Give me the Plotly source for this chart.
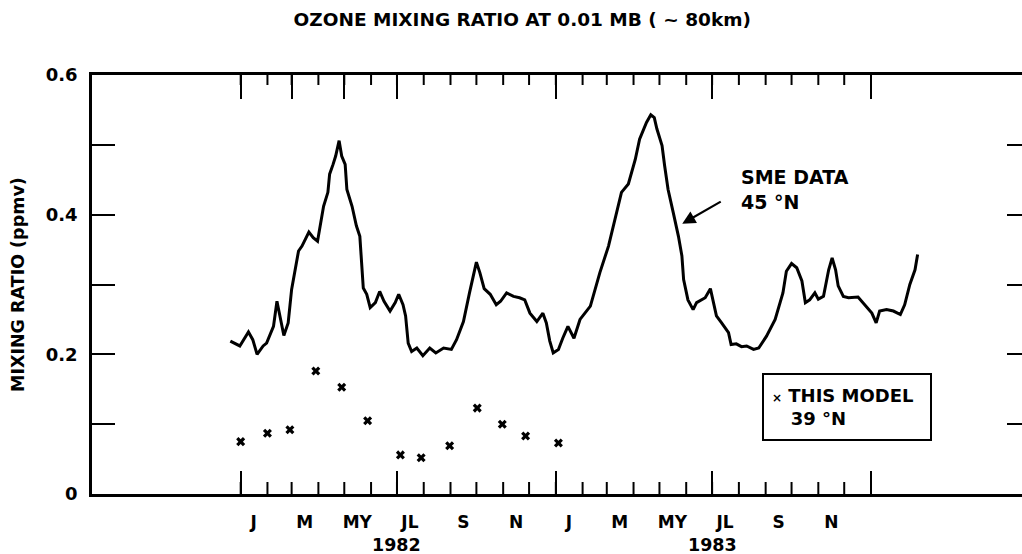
import pandas as pd
import plotly.graph_objects as go

# SME ozone mixing ratio at 45N (ppmv); time as days from 1 Jan 1982
sme_days = [-12, -1, 9, 14, 19, 26, 30, 38, 42, 46, 50, 55, 59, 67, 71, 79, 84, 89, 93, 96,
            101, 103, 107, 110, 114, 117, 121, 123, 129, 134, 138, 140, 142, 146, 150, 156,
            161, 166, 173, 179, 183, 188, 191, 194, 198, 204, 211, 219, 226, 235, 244, 250,
            258, 265, 269, 273, 277, 282, 289, 296, 301, 308, 316, 323, 329, 335, 343, 350,
            354, 358, 362, 368, 373, 379, 386, 393, 405, 416, 426, 434, 441, 449, 457, 462,
            470, 475, 479, 482, 488, 491, 495, 501, 507, 511, 513, 518, 524, 528, 538, 544,
            547, 551, 557, 565, 568, 574, 580, 586, 594, 600, 609, 619, 628, 632, 638, 644,
            650, 654, 659, 665, 669, 675, 681, 685, 689, 692, 698, 704, 715, 719, 725, 731,
            736, 740, 748, 756, 764, 769, 775, 781, 784]
sme_ppmv = [0.219, 0.212, 0.232, 0.221, 0.200, 0.212, 0.216, 0.240, 0.276, 0.252, 0.227, 0.245,
            0.293, 0.348, 0.355, 0.375, 0.367, 0.362, 0.389, 0.412, 0.432, 0.458, 0.472, 0.484,
            0.506, 0.484, 0.472, 0.436, 0.412, 0.384, 0.369, 0.331, 0.295, 0.286, 0.267, 0.274,
            0.290, 0.276, 0.262, 0.274, 0.286, 0.271, 0.255, 0.216, 0.204, 0.209, 0.198, 0.209,
            0.202, 0.209, 0.207, 0.221, 0.247, 0.288, 0.312, 0.332, 0.317, 0.294, 0.286, 0.271,
            0.276, 0.288, 0.283, 0.281, 0.278, 0.259, 0.247, 0.259, 0.245, 0.219, 0.202, 0.207,
            0.223, 0.240, 0.223, 0.250, 0.269, 0.317, 0.355, 0.398, 0.432, 0.444, 0.479, 0.508,
            0.532, 0.543, 0.539, 0.523, 0.499, 0.470, 0.436, 0.403, 0.369, 0.341, 0.307, 0.278,
            0.264, 0.274, 0.281, 0.294, 0.278, 0.255, 0.245, 0.231, 0.214, 0.215, 0.211, 0.212,
            0.207, 0.209, 0.226, 0.250, 0.288, 0.319, 0.330, 0.324, 0.305, 0.274, 0.278, 0.288,
            0.279, 0.283, 0.321, 0.338, 0.321, 0.298, 0.283, 0.281, 0.282, 0.276, 0.267, 0.259,
            0.245, 0.262, 0.264, 0.262, 0.257, 0.271, 0.300, 0.321, 0.343]

# Model values at 39N (ppmv), roughly monthly
model_dates = ["1982-01-01", "1982-02-01", "1982-02-27", "1982-03-29", "1982-04-28",
               "1982-05-28", "1982-07-05", "1982-07-29", "1982-08-31", "1982-10-02",
               "1982-10-31", "1982-11-27", "1983-01-04"]
model_ppmv = [0.075, 0.087, 0.092, 0.176, 0.153, 0.105, 0.056, 0.052, 0.069, 0.123,
              0.100, 0.083, 0.073]

month_labels = ["J", "M", "MY", "JL", "S", "N", "J", "M", "MY", "JL", "S", "N"]
month_label_dates = ["1982-01-16", "1982-03-16", "1982-05-16", "1982-07-16", "1982-09-16",
                     "1982-11-16", "1983-01-16", "1983-03-16", "1983-05-16", "1983-07-16",
                     "1983-09-16", "1983-11-16"]
year_labels = ["1982", "1983"]
year_label_dates = ["1982-07-01", "1983-07-01"]

y_tick_vals = [0, 0.1, 0.2, 0.3, 0.4, 0.5, 0.6]
y_tick_text = ["0", "", "0.2", "", "0.4", "", "0.6"]

base = pd.Timestamp("1982-01-01")
sme_dates = [(base + pd.Timedelta(days=d)).strftime("%Y-%m-%d") for d in sme_days]

month_starts = [f"{y}-{m:02d}-01" for y in (1982, 1983) for m in range(1, 13)] + ["1984-01-01"]
bottom_major = ["1982-01-01", "1982-07-01", "1983-01-01", "1983-07-01", "1984-01-01"]
top_major = ["1982-01-01", "1982-03-01", "1982-05-01", "1982-07-01",
             "1983-01-01", "1983-07-01", "1984-01-01"]
start_days, end_days = -172.2, 904.9
x_range = [(base + pd.Timedelta(days=start_days)).strftime("%Y-%m-%d %H:%M"),
           (base + pd.Timedelta(days=end_days)).strftime("%Y-%m-%d %H:%M")]

FONT = "DejaVu Sans"
ink = "black"
PLOT_H = 419  # plot-area height in px, used to turn tick lengths into paper units

fig = go.Figure()
fig.add_trace(go.Scatter(x=sme_dates, y=sme_ppmv, mode="lines",
                         line=dict(color=ink, width=3), showlegend=False, hoverinfo="skip"))
fig.add_trace(go.Scatter(x=model_dates, y=model_ppmv, mode="markers",
                         marker=dict(symbol="x", size=8, color=ink, line=dict(width=0)),
                         showlegend=False))

blank = dict(type="date", range=x_range, overlaying="x", anchor="y",
             showgrid=False, zeroline=False)

fig.update_layout(
    width=1022, height=554,
    margin=dict(l=92, r=0, t=75, b=60),
    paper_bgcolor="white", plot_bgcolor="white",
    font=dict(family=FONT, color=ink, size=17),
    title=dict(text="OZONE MIXING RATIO AT 0.01 MB ( ~ 80km)", x=0.511, xref="container",
               y=1 - 20 / 554, yanchor="middle", xanchor="center",
               font=dict(family=FONT, size=18.5, color=ink, weight="bold")),
    # bottom axis: long ticks at January / July
    xaxis=dict(type="date", range=x_range, showline=True, linewidth=2.5, linecolor=ink,
               ticks="inside", tickmode="array", tickvals=bottom_major, ticklen=23,
               tickwidth=2, tickcolor=ink, showticklabels=False, showgrid=False,
               zeroline=False),
    # month labels
    xaxis2=dict(blank, side="bottom", showline=False, ticks="", tickmode="array",
                tickvals=month_label_dates, ticktext=month_labels, ticklabelstandoff=16,
                tickfont=dict(family=FONT, size=17, color=ink, weight="bold")),
    # top border with its long ticks
    xaxis3=dict(blank, side="top", showline=True, linewidth=2.5, linecolor=ink,
                ticks="inside", tickmode="array", tickvals=top_major, ticklen=24,
                tickwidth=2, tickcolor=ink, showticklabels=False),
    yaxis=dict(range=[0, 0.6], showline=True, linewidth=2.5, linecolor=ink, ticks="inside",
               tickvals=y_tick_vals, ticktext=y_tick_text, ticklen=23, tickwidth=2,
               tickcolor=ink, showgrid=False, zeroline=False, ticklabelstandoff=8,
               tickfont=dict(family=FONT, size=18, color=ink, weight="bold")),
    yaxis2=dict(range=[0, 0.6], overlaying="y", side="right", anchor="x", showline=False,
                ticks="inside", tickvals=[0.1, 0.2, 0.3, 0.4, 0.5], ticklen=15, tickwidth=2,
                tickcolor=ink, showticklabels=False, showgrid=False, zeroline=False),
)

# empty traces so the overlaid axes are drawn
for xa, ya in [("x2", "y"), ("x3", "y2")]:
    fig.add_trace(go.Scatter(x=[None], y=[None], xaxis=xa, yaxis=ya, showlegend=False,
                             hoverinfo="skip"))

# short monthly ticks on the bottom and top borders (Jan 1982 - Jan 1984)
for d in month_starts:
    fig.add_shape(type="line", xref="x", yref="paper", x0=d, x1=d, y0=0, y1=12 / PLOT_H,
                  line=dict(color=ink, width=2))
    fig.add_shape(type="line", xref="x", yref="paper", x0=d, x1=d, y0=1, y1=1 - 10 / PLOT_H,
                  line=dict(color=ink, width=2))

# y-axis title
fig.add_annotation(text="MIXING RATIO (ppmv)", textangle=-90, xref="paper", yref="paper",
                   x=(18 - 92) / 930, y=(494 - 285) / 419, xanchor="center", yanchor="middle",
                   showarrow=False, font=dict(family=FONT, size=17.5, color=ink, weight="bold"))

# year labels under the month labels
for lbl, d in zip(year_labels, year_label_dates):
    fig.add_annotation(text=lbl, x=d, xref="x", y=(494 - 545) / 419, yref="paper",
                       xanchor="center", yanchor="middle", showarrow=False,
                       font=dict(family=FONT, size=17.5, color=ink, weight="bold"))

# SME label and arrow
fig.add_annotation(text="SME DATA<br>45 °N", xref="paper", yref="paper",
                   x=(739 - 92) / 930, y=(494 - 189) / 419, xanchor="left", yanchor="middle",
                   align="left", showarrow=False,
                   font=dict(family=FONT, size=19, color=ink, weight="bold"))
fig.add_annotation(text="", x=(base + pd.Timedelta(days=511.4)).strftime("%Y-%m-%d %H:%M"),
                   y=0.387, xref="x", yref="y",
                   ax=40, ay=-23, showarrow=True, arrowhead=2, arrowsize=1.2, arrowwidth=2.2,
                   arrowcolor=ink)

# model legend box
fig.add_annotation(text="<span style='font-size:12px'>×</span> THIS MODEL<br>\u00a0\u00a0\u00a039 °N",
                   xref="paper", yref="paper", x=(762 - 92) / 930, y=(494 - 373) / 419,
                   xanchor="left", yanchor="top", align="left", showarrow=False,
                   width=150, height=48,
                   bordercolor=ink, borderwidth=2, borderpad=8, bgcolor="white",
                   font=dict(family=FONT, size=18, color=ink, weight="bold"))

fig.write_html("out.html")
